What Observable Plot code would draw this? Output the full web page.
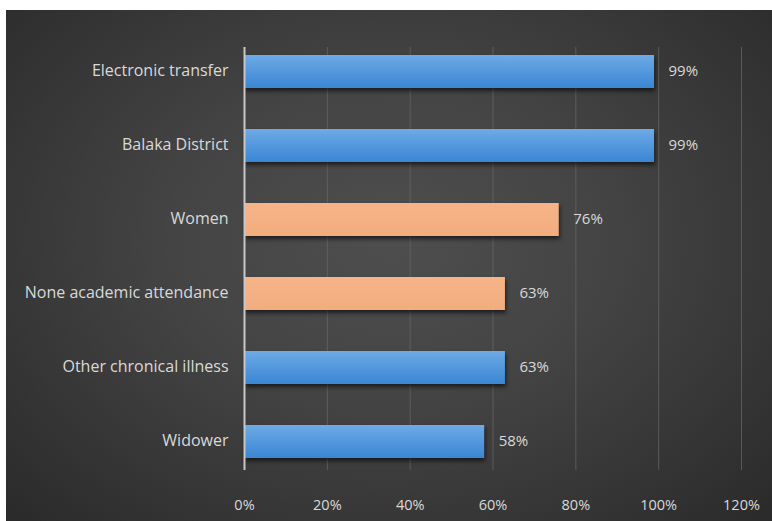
<!DOCTYPE html>
<html>
<head>
<meta charset="utf-8">
<script src="https://cdn.jsdelivr.net/npm/d3@7"></script>
<script src="https://cdn.jsdelivr.net/npm/@observablehq/plot@0.6"></script>
<style>
  html, body { margin: 0; padding: 0; background: #ffffff; }
  #chart {
    position: absolute; left: 6px; top: 10px; width: 766px; height: 511px;
    background: radial-gradient(ellipse at 50% 45%, #4e4e4e 0%, #444444 40%, #2a2a2a 100%);
  }
  #chart svg { background: transparent; display: block; }
</style>
</head>
<body>
<div id="chart"></div>
<script>
const categories = ["Electronic transfer", "Balaka District", "Women", "None academic attendance", "Other chronical illness", "Widower"];
const values = [0.99, 0.99, 0.76, 0.63, 0.63, 0.58];
const highlight = [false, false, true, true, false, false];
const xTicks = [0, 0.2, 0.4, 0.6, 0.8, 1.0, 1.2];

const data = categories.map((c, i) => ({category: c, value: values[i], hi: highlight[i]}));
const pct = d3.format(".0%");

const chart = Plot.plot({
  width: 766,
  height: 511,
  marginLeft: 238,
  marginRight: 31,
  marginTop: 35,
  marginBottom: 53,
  style: {fontFamily: "'Open Sans', Lato, sans-serif", fontSize: "14px", color: "#d9d9d9", background: "transparent"},
  x: {domain: [0, 1.2], ticks: xTicks, tickFormat: pct, label: null},
  y: {domain: categories, paddingInner: 0.55, paddingOuter: 0.104, label: null},
  marks: [
    Plot.gridX(xTicks.slice(1), {stroke: "#6a6a6a", strokeOpacity: 0.7, strokeWidth: 1, insetTop: 2, insetBottom: -2}),
    Plot.barX(data, {x: "value", y: "category", fill: d => d.hi ? "url(#orangeGrad)" : "url(#blueGrad)"}),
    Plot.ruleX([0], {stroke: "#c8c8c8", strokeWidth: 2, insetTop: 2, insetBottom: -2}),
    Plot.text(data, {x: "value", y: "category", text: d => pct(d.value), textAnchor: "start", dx: 14, dy: -1, fill: "#d9d9d9", fontSize: 15}),
    Plot.axisX({ticks: xTicks, tickFormat: pct, tickSize: 0, tickPadding: 31, fill: "#d9d9d9", fontSize: 14.5, label: null}),
    Plot.axisY({tickSize: 0, tickPadding: 16, fill: "#d9d9d9", fontSize: 16, dy: -1, label: null})
  ]
});

const defs = d3.select(chart).insert("defs", ":first-child");
const bg = defs.append("linearGradient").attr("id", "blueGrad").attr("x1", 0).attr("y1", 0).attr("x2", 0).attr("y2", 1);
bg.append("stop").attr("offset", "0%").attr("stop-color", "#6eaae6");
bg.append("stop").attr("offset", "100%").attr("stop-color", "#3a86d4");
const og = defs.append("linearGradient").attr("id", "orangeGrad").attr("x1", 0).attr("y1", 0).attr("x2", 0).attr("y2", 1);
og.append("stop").attr("offset", "0%").attr("stop-color", "#f6b487");
og.append("stop").attr("offset", "100%").attr("stop-color", "#f2ad7e");

d3.select(chart).selectAll("g[aria-label='bar'] rect")
  .style("filter", "drop-shadow(1px 3px 2px rgba(0,0,0,0.6))");

document.getElementById("chart").appendChild(chart);
</script>
</body>
</html>
